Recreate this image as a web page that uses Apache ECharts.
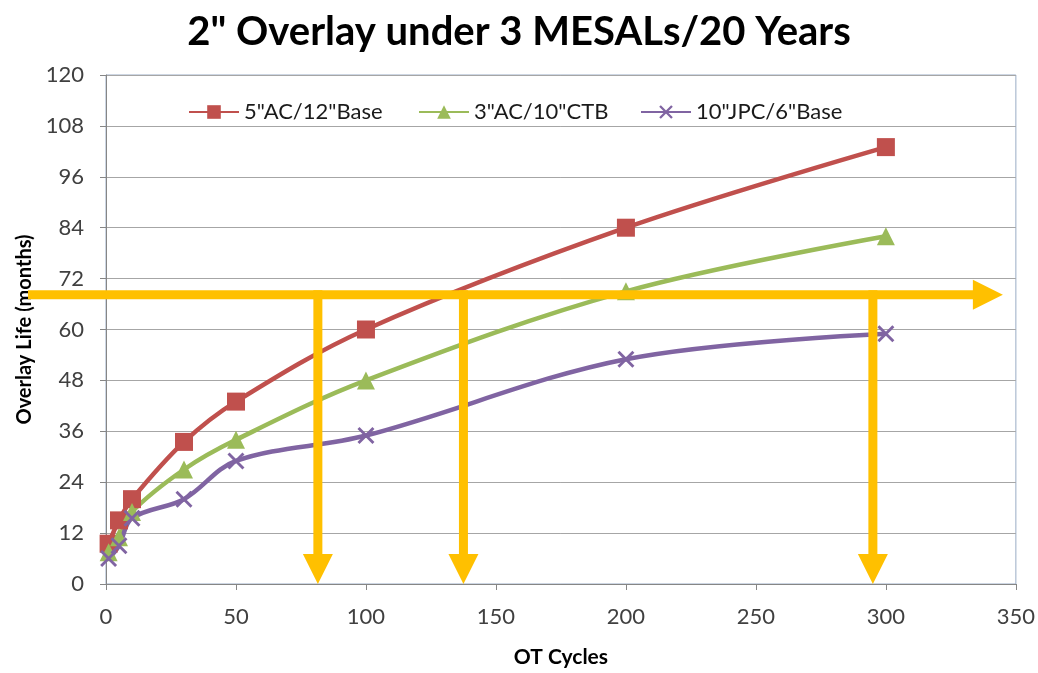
<!DOCTYPE html>
<html>
<head>
<meta charset="utf-8">
<script src="https://cdn.jsdelivr.net/npm/echarts@6/dist/echarts.min.js"></script>
<style>
  html, body { margin: 0; padding: 0; background: #fff; }
  #chart { width: 1038px; height: 673px; }
</style>
</head>
<body>
<div id="chart"></div>
<script>
// ---- data ----
const otCycles = [1, 5, 10, 30, 50, 100, 200, 300];
const seriesNames = ['5"AC/12"Base', '3"AC/10"CTB', '10"JPC/6"Base'];
const acBase = [9.5, 15, 20, 33.5, 43, 60, 84, 103];
const acCtb = [7.5, 11, 17, 27, 34, 48, 69, 82];
const jpcBase = [6, 9, 15.5, 20, 29, 35, 53, 59];
const xTicks = [0, 50, 100, 150, 200, 250, 300, 350];
const yTicks = [0, 12, 24, 36, 48, 60, 72, 84, 96, 108, 120];
// annotation (yellow guide arrows), in data units
const guideLife = 68.2;
const guideFrom = -30;
const guideTo = 345;
const guideCycles = [81.5, 137.5, 295];

const FONT = 'Lato, "Open Sans", sans-serif';
const chart = echarts.init(document.getElementById('chart'));
const pair = (xs, ys) => xs.map((x, i) => [x, ys[i]]);
const crossPath = 'path://M0,1.2 L1.2,0 L10,8.8 L8.8,10 Z M8.8,0 L10,1.2 L1.2,10 L0,8.8 Z';

const mk = (name, data, color, symbol, size) => ({
  name, type: 'line', data, smooth: 0.35, symbol, symbolSize: size,
  lineStyle: { color, width: 4.5 }, itemStyle: { color },
  z: 3
});

const option = {
  animation: false,
  backgroundColor: '#fff',
  title: {
    text: '2" Overlay under 3 MESALs/20 Years',
    left: 'center', top: 7,
    textStyle: { fontFamily: FONT, fontWeight: 'bold', fontSize: 40, color: '#000' }
  },
  legend: seriesNames.map((n, i) => ({
    data: [n], left: [183, 413, 635][i], top: 96,
    itemWidth: 50, itemHeight: 17, itemGap: 5,
    textStyle: { fontFamily: FONT, fontSize: 22, color: '#1a1a1a' }
  })),
  grid: {
    left: 106, right: 22, top: 75, bottom: 86,
    show: true, borderColor: '#9AADC6', borderWidth: 1
  },
  xAxis: {
    type: 'value', min: 0, max: 350, interval: 50,
    name: 'OT Cycles', nameLocation: 'middle', nameGap: 63,
    nameTextStyle: { fontFamily: FONT, fontWeight: 'bold', fontSize: 21, color: '#000' },
    axisLine: { lineStyle: { color: '#868686' } },
    axisTick: { show: true, length: 6, lineStyle: { color: '#868686' } },
    axisLabel: { fontFamily: FONT, fontSize: 22, color: '#404040', margin: 22,
      formatter: v => xTicks.includes(v) ? String(v) : '' },
    splitLine: { show: false }
  },
  yAxis: {
    type: 'value', min: 0, max: 120, interval: 12,
    name: 'Overlay Life (months)', nameLocation: 'middle', nameGap: 67, nameRotate: 90,
    nameTextStyle: { fontFamily: FONT, fontWeight: 'bold', fontSize: 20, color: '#000' },
    axisLine: { show: true, lineStyle: { color: '#868686' } },
    axisTick: { show: true, length: 6, lineStyle: { color: '#868686' } },
    axisLabel: { fontFamily: FONT, fontSize: 22, color: '#404040', margin: 22,
      formatter: v => yTicks.includes(v) ? String(v) : '' },
    splitLine: { show: true, lineStyle: { color: '#A6A6A6', width: 1 } }
  },
  series: [
    mk(seriesNames[0], pair(otCycles, acBase), '#C0504D', 'rect', 18),
    mk(seriesNames[1], pair(otCycles, acCtb), '#9BBB59', 'triangle', 18),
    mk(seriesNames[2], pair(otCycles, jpcBase), '#8064A2', crossPath, 17)
  ]
};
chart.setOption(option);

// yellow guide arrows placed via the chart's own scales
const P = (x, y) => chart.convertToPixel({ gridIndex: 0 }, [x, y]);
const Y = '#FFC000';
const gfx = [];
const hStart = P(guideFrom, guideLife);
const hEnd = P(guideTo, guideLife);
const head = 30, half = 15, thick = 9;
gfx.push({ type: 'line', shape: { x1: hStart[0], y1: hStart[1], x2: hEnd[0] - head + 1, y2: hEnd[1] },
  style: { stroke: Y, lineWidth: thick }, z: 10 });
gfx.push({ type: 'polygon', shape: { points: [[hEnd[0] - head, hEnd[1] - half], [hEnd[0], hEnd[1]], [hEnd[0] - head, hEnd[1] + half]] },
  style: { fill: Y }, z: 10 });
guideCycles.forEach(c => {
  const top = P(c, guideLife);
  const bot = P(c, 0);
  gfx.push({ type: 'line', shape: { x1: top[0], y1: top[1] - thick / 2, x2: bot[0], y2: bot[1] - head + 1 },
    style: { stroke: Y, lineWidth: thick }, z: 10 });
  gfx.push({ type: 'polygon', shape: { points: [[bot[0] - half, bot[1] - head], [bot[0], bot[1]], [bot[0] + half, bot[1] - head]] },
    style: { fill: Y }, z: 10 });
});
chart.setOption({ graphic: gfx });
</script>
</body>
</html>
